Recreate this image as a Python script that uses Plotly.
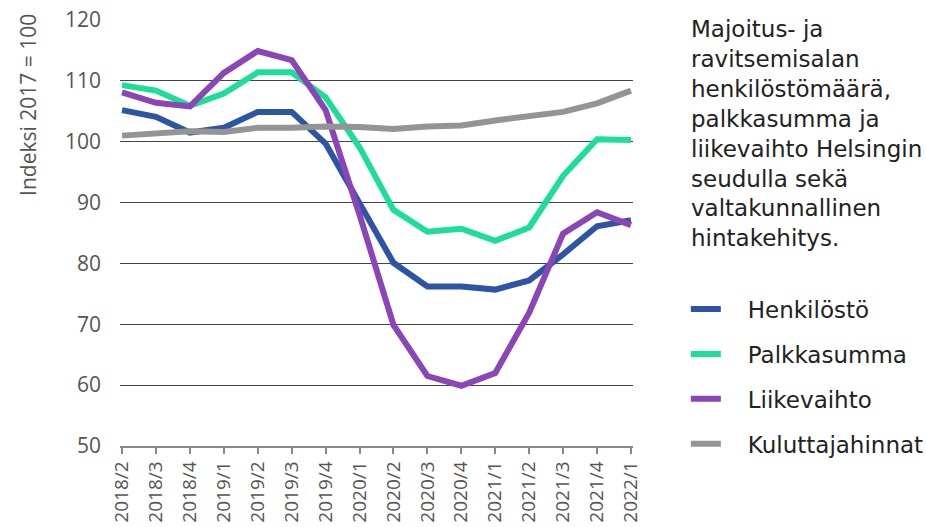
import plotly.graph_objects as go

quarters = ["2018/2", "2018/3", "2018/4", "2019/1", "2019/2", "2019/3", "2019/4",
            "2020/1", "2020/2", "2020/3", "2020/4", "2021/1", "2021/2", "2021/3",
            "2021/4", "2022/1"]

henkilosto = [105.2, 104.1, 101.5, 102.3, 104.9, 104.9, 99.7, 90.0, 80.1, 76.2,
              76.2, 75.7, 77.2, 81.5, 86.1, 87.1]
palkkasumma = [109.3, 108.4, 105.9, 107.9, 111.4, 111.4, 107.3, 99.1, 88.8, 85.2,
               85.7, 83.7, 85.9, 94.4, 100.4, 100.3]
liikevaihto = [108.1, 106.4, 105.8, 111.3, 114.9, 113.4, 105.2, 88.0, 69.9, 61.5,
               59.9, 62.0, 71.9, 84.9, 88.4, 86.3]
kuluttajahinnat = [101.0, 101.3, 101.7, 101.6, 102.3, 102.3, 102.5, 102.4, 102.1,
                   102.5, 102.65, 103.5, 104.3, 104.9, 106.3, 108.4]

series = [
    ("Henkilöstö", henkilosto, "#2E55A3"),
    ("Palkkasumma", palkkasumma, "#1EDD96"),
    ("Liikevaihto", liikevaihto, "#8A45B6"),
    ("Kuluttajahinnat", kuluttajahinnat, "#949494"),
]

title_text = ("Majoitus- ja<br>ravitsemisalan<br>henkilöstömäärä,<br>palkkasumma ja"
              "<br>liikevaihto Helsingin<br>seudulla sekä<br>valtakunnallinen<br>hintakehitys.")
y_title = "Indeksi 2017 = 100"

FONT = "Open Sans"
SIDE_FONT = "DejaVu Sans"
PAD = "\u00a0\u00a0\u00a0"

fig = go.Figure()
for i, (name, vals, col) in enumerate(series):
    fig.add_trace(go.Scatter(
        x=quarters, y=vals, name=PAD + name, mode="lines",
        line=dict(color=col, width=6),
        legendgroup=f"g{i}",
    ))

fig.update_layout(
    width=926, height=527,
    margin=dict(l=120, r=293, t=20, b=81, autoexpand=False),
    paper_bgcolor="white", plot_bgcolor="white",
    font=dict(family=FONT, color="#444"),
    showlegend=True,
    legend=dict(
        x=1.103, xanchor="left", xref="paper",
        y=0.372, yanchor="top",
        font=dict(family=SIDE_FONT, size=23, color="#222"),
        tracegroupgap=12,
        bgcolor="rgba(0,0,0,0)",
    ),
    xaxis=dict(
        type="category",
        range=[-0.06, 15.06],
        showgrid=False,
        showline=True, linecolor="#888", linewidth=1.5,
        ticks="outside", ticklen=6, tickcolor="#888", tickwidth=1.5,
        tickangle=-90,
        tickfont=dict(family=FONT, size=19, color="#555"),
        fixedrange=True,
    ),
    yaxis=dict(
        range=[50, 120],
        tickvals=[50, 60, 70, 80, 90, 100, 110, 120],
        showgrid=True, gridcolor="#444", gridwidth=1,
        zeroline=False,
        showline=False,
        ticks="", ticklabelstandoff=18,
        tickfont=dict(family=FONT, size=21, color="#555"),
        fixedrange=True,
    ),
    annotations=[
        dict(
            text=title_text, xref="paper", yref="paper",
            x=1.109, y=1.015, xanchor="left", yanchor="top",
            align="left", showarrow=False,
            font=dict(family=SIDE_FONT, size=23, color="#222"),
        ),
        dict(
            text=y_title, xref="paper", yref="paper",
            x=-0.178, y=0.80, xanchor="center", yanchor="middle",
            textangle=-90, showarrow=False,
            font=dict(family=FONT, size=21, color="#555"),
        ),
    ],
)

fig.write_html("out.html", config={"displayModeBar": False},
               post_script="document.body.style.margin='0';")
